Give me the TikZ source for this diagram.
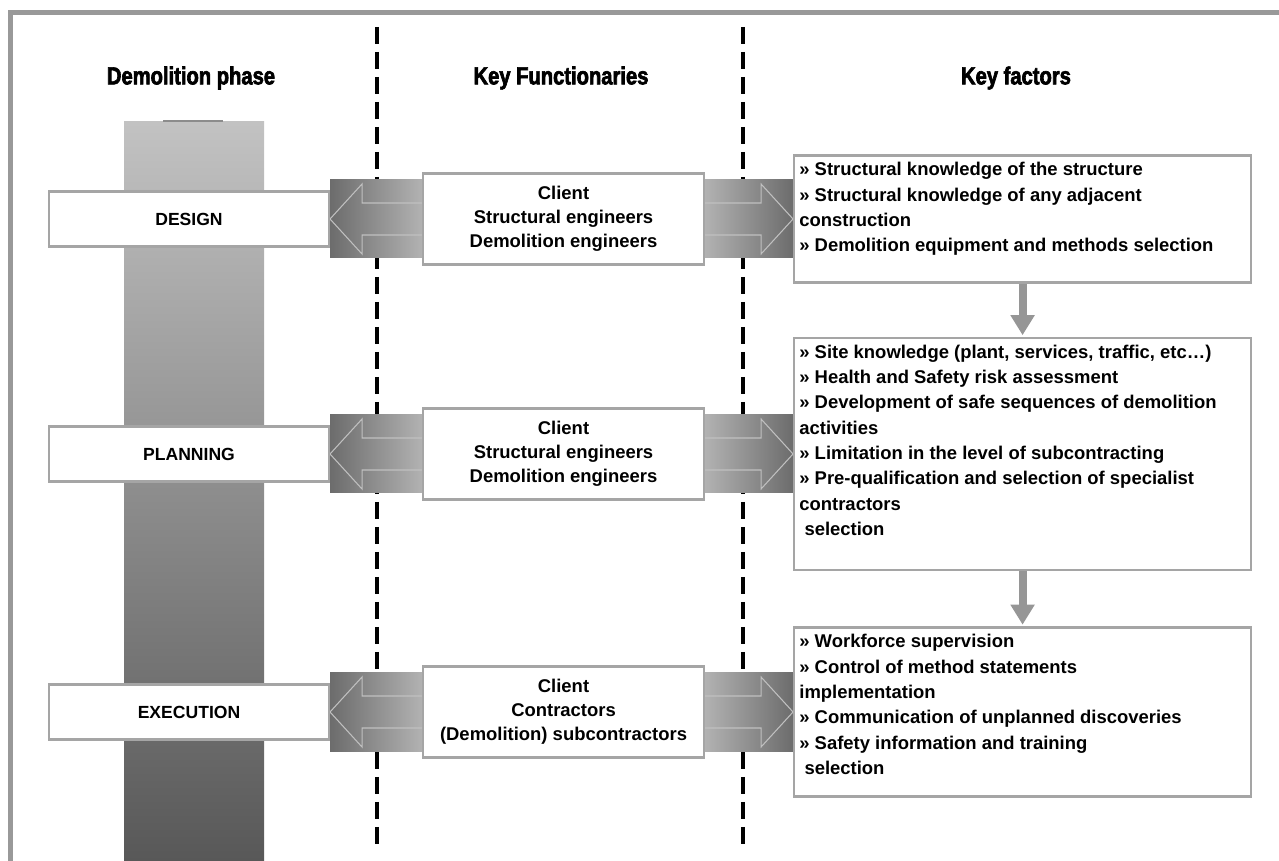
\documentclass[tikz,border=0pt]{standalone}
\usepackage{fontspec}
\setmainfont{Liberation Sans}
\newfontfamily\headfont[FakeStretch=0.82,FakeBold=2.6]{Liberation Sans}
\usepackage{tikz}
\usetikzlibrary{arrows.meta, positioning, calc}
\pgfdeclarelayer{background}
\pgfsetlayers{background,main}
\definecolor{framegray}{RGB}{153,153,153}
\definecolor{boxgray}{RGB}{165,165,165}
\definecolor{bartop}{RGB}{194,194,194}
\definecolor{barbottom}{RGB}{88,88,88}
\definecolor{arrdark}{RGB}{108,108,108}
\definecolor{arrlight}{RGB}{178,178,178}
\definecolor{arrline}{RGB}{192,192,192}
\definecolor{downgray}{RGB}{150,150,150}

\begin{document}
\begin{tikzpicture}[
    x=0.02cm, y=-0.02cm,
    head/.style={font=\headfont\bfseries\fontsize{14}{16}\selectfont},
    phase/.style={rectangle, draw=boxgray, line width=1.2pt, fill=white, minimum width=5.6cm, minimum height=1.1cm, font=\bfseries\fontsize{10}{12}\selectfont},
    who/.style={rectangle, draw=boxgray, line width=1.2pt, fill=white, minimum width=5.62cm, minimum height=1.82cm, align=center, font=\bfseries\fontsize{10.5}{13.6}\selectfont},
    factor/.style={rectangle, draw=boxgray, line width=1.2pt, fill=white, inner xsep=3pt, inner ysep=4pt, font=\bfseries\fontsize{10.5}{14.4}\selectfont},
    divider/.style={line width=2pt, dash pattern=on 0.34cm off 0.16cm},
    wide/.style={line width=0.6pt, draw=arrline},
    down/.style={-{Triangle[length=0.4cm, width=0.46cm]}, line width=4.5pt, draw=downgray, shorten >=1pt}
]
\useasboundingbox (0,0) rectangle (1279,861);

% Column heads
\node[head] (hphase) at (191,78) {Demolition phase};
\node[head] (hwho) at (561,78) {Key Functionaries};
\node[head] (hfactor) at (1016,78) {Key factors};

% Phases
\node[phase] (design) at (189,219) {DESIGN};
\node[phase] (planning) at (189,454) {PLANNING};
\node[phase] (execution) at (189,712) {EXECUTION};

% Functionaries
\node[who, right=1.84cm of design] (fdesign) {Client\\Structural engineers\\Demolition engineers};
\node[who, right=1.84cm of planning] (fplanning) {Client\\Structural engineers\\Demolition engineers};
\node[who, right=1.84cm of execution] (fexecution) {Client\\Contractors\\(Demolition) subcontractors};

% Key factors
\node[factor, right=1.76cm of fdesign] (kdesign) {\parbox[c][2.26cm][t]{8.93cm}{\raggedright
  » Structural knowledge of the structure\\
  » Structural knowledge of any adjacent\\
  construction\\
  » Demolition equipment and methods selection}};
\node[factor, right=1.76cm of fplanning] (kplanning) {\parbox[c][4.36cm][t]{8.93cm}{\raggedright
  » Site knowledge (plant, services, traffic, etc…)\\
  » Health and Safety risk assessment\\
  » Development of safe sequences of demolition\\
  activities\\
  » Limitation in the level of subcontracting\\
  » Pre-qualification and selection of specialist\\
  contractors\\
  \hspace*{0.28em}selection}};
\node[factor, right=1.76cm of fexecution] (kexecution) {\parbox[c][3.1cm][t]{8.93cm}{\raggedright
  » Workforce supervision\\
  » Control of method statements\\
  implementation\\
  » Communication of unplanned discoveries\\
  » Safety information and training\\
  \hspace*{0.28em}selection}};

% Flow between factor boxes
\draw[down] (kdesign) -- (kplanning);
\draw[down] (kplanning) -- (kexecution);

\begin{pgfonlayer}{background}
% Frame
\draw[framegray, line width=2.8pt] (10.5,12.5) rectangle (1320,900);
% Phase bar
\fill[top color=bartop, bottom color=barbottom] (124,122) rectangle (264,861);
\draw[black!45, line width=0.6pt] (163,121) -- (223,121);
% Column dividers
\draw[divider] (377,27) -- (377,850);
\draw[divider] (743,27) -- (743,850);
% Double arrows
\foreach \ph/\fn/\kf in {design/fdesign/kdesign, planning/fplanning/kplanning, execution/fexecution/kexecution} {
  \fill[left color=arrdark, right color=arrlight] ($(\ph.east |- \fn.west)+(0,-39)$) rectangle ($(\fn.west)+(0,39)$);
  \draw[wide] ($(\fn.west)+(0,-16)$) -- ($(\ph.east |- \fn.west)+(32,-16)$) -- ($(\ph.east |- \fn.west)+(32,-35)$)
    -- (\ph.east |- \fn.west) -- ($(\ph.east |- \fn.west)+(32,35)$) -- ($(\ph.east |- \fn.west)+(32,16)$) -- ($(\fn.west)+(0,16)$);
  \fill[left color=arrlight, right color=arrdark] ($(\fn.east)+(0,-39)$) rectangle ($(\kf.west |- \fn.east)+(0,39)$);
  \draw[wide] ($(\fn.east)+(0,-16)$) -- ($(\kf.west |- \fn.east)+(-32,-16)$) -- ($(\kf.west |- \fn.east)+(-32,-35)$)
    -- (\kf.west |- \fn.east) -- ($(\kf.west |- \fn.east)+(-32,35)$) -- ($(\kf.west |- \fn.east)+(-32,16)$) -- ($(\fn.east)+(0,16)$);
}
\end{pgfonlayer}
\end{tikzpicture}
\end{document}
